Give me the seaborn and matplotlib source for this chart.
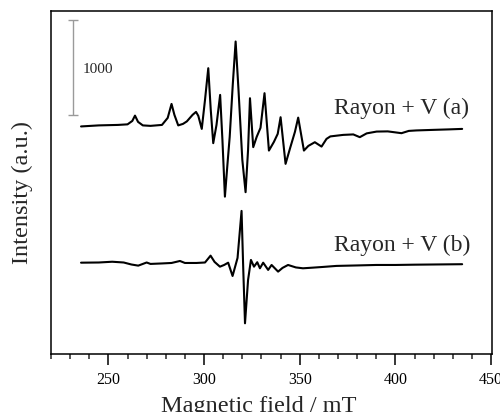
import matplotlib
matplotlib.use("Agg")
import matplotlib.pyplot as plt
import seaborn as sns
import numpy as np
import pandas as pd

# ---- data ----
field_a = [235.7, 245, 255, 260, 262.5, 263.9, 265.5, 268, 272, 278, 281, 283.0, 284.5,
           286.5, 289, 291, 294, 295.8, 297, 298.8, 300.5, 302.2, 303.5, 304.8, 306.5,
           308.4, 309.6, 310.9, 312.2, 313.4, 315, 316.5, 318, 320, 321.7, 323, 324,
           325.7, 327.5, 329.5, 331.6, 333.9, 336.5, 338.5, 340.0, 342.6, 345, 347.5,
           349.2, 352.2, 354.5, 357.9, 361.4, 364, 366, 372.7, 378, 381.4, 385, 390.2,
           396, 403.2, 407, 411, 420, 428, 434.9]
intensity_a = [2395, 2406, 2411, 2417, 2453, 2509, 2443, 2406, 2401, 2411, 2485, 2632, 2517,
               2406, 2422, 2448, 2517, 2548, 2506, 2369, 2675, 3008, 2569, 2219, 2411,
               2727, 2253, 1656, 1990, 2285, 2833, 3289, 2780, 2043, 1703, 2148, 2692,
               2177, 2285, 2380, 2745, 2141, 2232, 2317, 2492, 2001, 2169, 2338,
               2488, 2141, 2190, 2229, 2183, 2264, 2290, 2306, 2311, 2282, 2322, 2341,
               2343, 2324, 2348, 2353, 2359, 2364, 2369]

field_b = [235.7, 245, 252, 258, 262, 265.6, 268, 270, 272, 278, 283, 287.4, 290, 296,
           300.5, 303.4, 305.5, 308.3, 310.5, 312.6, 314.9, 317.5, 319.6, 320.5, 321.4,
           323, 324.5, 326.1, 327.8, 329.2, 330.9, 333.5, 335.3, 338.7, 341, 343.9, 348,
           351.7, 357, 362, 369.2, 380, 390, 400, 410, 420, 434.9]
intensity_b = [961, 963, 971, 963, 942, 930, 948, 963, 948, 953, 958, 979, 958, 958,
               963, 1035, 969, 919, 937, 961, 821, 1011, 1506, 885, 323,
               779, 990, 919, 966, 902, 961, 885, 937, 867, 906, 937, 911,
               902, 909, 916, 927, 932, 937, 937, 940, 942, 945]

labels = ["Rayon + V (a)", "Rayon + V (b)"]
scale_value = 1000
x_ticks = [250, 300, 350, 400, 450]

# ---- plotting ----
sns.set_style("ticks")
plt.rcParams["font.family"] = ["Liberation Serif", "DejaVu Serif"]
plt.rcParams["mathtext.fontset"] = "stix"

fig = plt.figure(figsize=(5.0, 4.12), dpi=100)
ax = fig.add_axes([0.102, 0.1408, 0.882, 0.8325])

df_a = pd.DataFrame({"field": field_a, "intensity": intensity_a})
df_b = pd.DataFrame({"field": field_b, "intensity": intensity_b})
sns.lineplot(data=df_a, x="field", y="intensity", ax=ax, color="black", lw=1.5,
             sort=False, estimator=None)
sns.lineplot(data=df_b, x="field", y="intensity", ax=ax, color="black", lw=1.5,
             sort=False, estimator=None)

ax.set_xlim(220, 450.5)
ax.set_ylim(0, 3610)

# scale bar
sb_x = 231.5
sb_lo, sb_hi = 2516, 2516 + scale_value
ax.vlines(sb_x, sb_lo, sb_hi, color="#9a9a9a", lw=1.0)
ax.hlines([sb_lo, sb_hi], sb_x - 2.6, sb_x + 2.6, color="#9a9a9a", lw=1.0)
ax.text(236.3, (sb_lo + sb_hi) / 2 - 20, str(scale_value), fontsize=11, va="center", ha="left")

ax.text(367.8, 2523, labels[0], fontsize=17, va="baseline", ha="left")
ax.text(367.8, 1087, labels[1], fontsize=17, va="baseline", ha="left")

ax.set_xticks(x_ticks)
ax.set_xticks(np.arange(220, 451, 10), minor=True)
ax.set_yticks([])
ax.tick_params(axis="x", which="major", direction="out", length=8, width=1.1,
               labelsize=11.5, pad=5, colors="black")
ax.tick_params(axis="x", which="minor", direction="out", length=3.6, width=1.1)
for s in ax.spines.values():
    s.set_linewidth(1.1)
    s.set_color("black")

ax.set_xlabel("Magnetic field / mT", fontsize=17.5)
ax.set_ylabel("Intensity (a.u.)", fontsize=17.5)
ax.xaxis.set_label_coords(0.471, -0.123)
ax.yaxis.set_label_coords(-0.041, 0.472)

fig.savefig("out.png", dpi=100)
